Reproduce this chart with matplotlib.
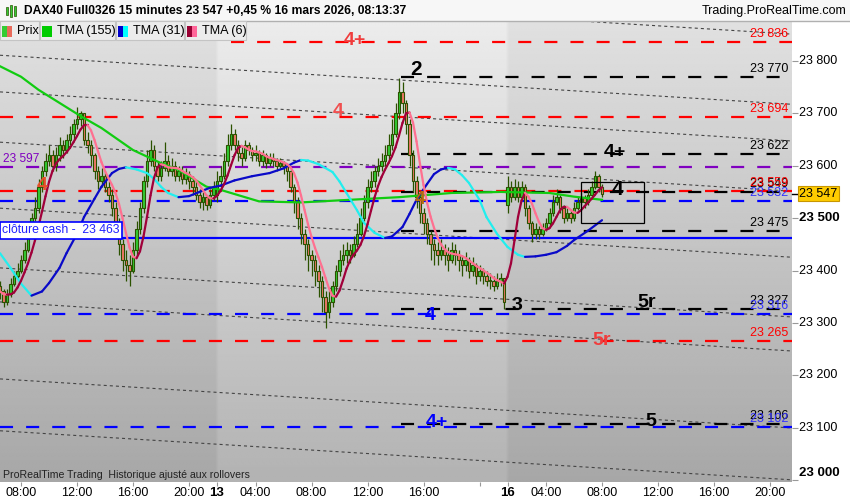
import numpy as np
import pandas as pd
import matplotlib
matplotlib.use("Agg")
import matplotlib.pyplot as plt
from matplotlib.collections import LineCollection
from matplotlib.patches import Rectangle

plt.rcParams['font.family'] = ['Liberation Sans', 'DejaVu Sans']
plt.rcParams['lines.scale_dashes'] = False

# Step 1: candle data (15 min bars, 12 / 13 / 16 March)
c12 = [23360, 23340, 23355, 23375, 23390, 23400, 23420, 23440, 23470, 23500,
       23520, 23560, 23590, 23610, 23620, 23600, 23620, 23640, 23630, 23650,
       23660, 23680, 23690, 23700, 23650, 23640, 23620, 23590, 23570, 23580,
       23560, 23545, 23520, 23490, 23450, 23420, 23410, 23400, 23440, 23480,
       23520, 23570, 23610, 23630, 23600, 23580, 23595, 23610, 23590, 23600,
       23580, 23590, 23575, 23585, 23570, 23560, 23545, 23530, 23540, 23525,
       23545, 23560]
h12 = [23380, 23365, 23365, 23385, 23400, 23415, 23430, 23455, 23480, 23510,
       23540, 23575, 23600, 23625, 23640, 23630, 23635, 23655, 23650, 23660,
       23675, 23690, 23712, 23705, 23700, 23665, 23650, 23625, 23600, 23595,
       23590, 23570, 23555, 23530, 23500, 23460, 23440, 23430, 23455, 23495,
       23530, 23580, 23630, 23650, 23640, 23610, 23610, 23645, 23620, 23615,
       23610, 23600, 23600, 23595, 23590, 23580, 23570, 23555, 23550, 23545,
       23555, 23570]
l12 = [23345, 23330, 23335, 23350, 23370, 23385, 23395, 23415, 23435, 23465,
       23495, 23510, 23550, 23580, 23600, 23590, 23590, 23610, 23615, 23625,
       23640, 23650, 23670, 23675, 23640, 23625, 23600, 23575, 23555, 23560,
       23550, 23530, 23505, 23475, 23430, 23400, 23380, 23370, 23395, 23430,
       23470, 23510, 23560, 23600, 23590, 23570, 23570, 23590, 23580, 23580,
       23570, 23570, 23565, 23565, 23555, 23545, 23535, 23520, 23515, 23515,
       23520, 23535]

c13 = [23570, 23580, 23610, 23640, 23660, 23640, 23625, 23615, 23640, 23630,
       23620, 23625, 23610, 23620, 23605, 23615, 23610, 23600, 23605, 23600,
       23590, 23560, 23530, 23500, 23470, 23450, 23430, 23420, 23400, 23380,
       23350, 23320, 23340, 23370, 23400, 23420, 23430, 23440, 23430, 23450,
       23470, 23500, 23530, 23560, 23570, 23590, 23600, 23610, 23620, 23640,
       23660, 23700, 23740, 23720, 23680, 23620, 23570, 23540, 23510, 23490,
       23470, 23450, 23440, 23430, 23440, 23430, 23420, 23440, 23430, 23420,
       23410, 23420, 23400, 23410, 23390, 23400, 23390, 23380, 23380, 23370,
       23380, 23385, 23340]
h13 = [23590, 23600, 23625, 23660, 23680, 23670, 23650, 23635, 23650, 23645,
       23635, 23640, 23630, 23630, 23625, 23625, 23625, 23615, 23615, 23610,
       23605, 23595, 23565, 23540, 23510, 23480, 23460, 23440, 23430, 23410,
       23390, 23360, 23360, 23380, 23410, 23440, 23450, 23455, 23450, 23465,
       23490, 23520, 23545, 23575, 23590, 23600, 23615, 23625, 23640, 23660,
       23690, 23720, 23768, 23760, 23725, 23690, 23630, 23580, 23550, 23520,
       23500, 23475, 23460, 23455, 23460, 23450, 23445, 23455, 23450, 23440,
       23430, 23435, 23425, 23425, 23415, 23410, 23405, 23400, 23395, 23390,
       23395, 23395, 23385]
l13 = [23530, 23560, 23575, 23600, 23630, 23630, 23610, 23600, 23610, 23620,
       23610, 23610, 23600, 23600, 23595, 23600, 23600, 23590, 23595, 23585,
       23570, 23550, 23510, 23480, 23450, 23420, 23400, 23390, 23370, 23350,
       23320, 23290, 23310, 23330, 23360, 23390, 23410, 23415, 23415, 23425,
       23445, 23465, 23495, 23520, 23550, 23560, 23580, 23590, 23600, 23610,
       23630, 23655, 23690, 23700, 23660, 23600, 23550, 23520, 23490, 23470,
       23450, 23420, 23410, 23410, 23420, 23410, 23400, 23415, 23410, 23400,
       23390, 23400, 23385, 23390, 23375, 23380, 23375, 23370, 23365, 23360,
       23365, 23370, 23327]

c16 = [23560, 23540, 23560, 23540, 23560, 23520, 23490, 23470, 23480, 23470,
       23480, 23490, 23510, 23530, 23540, 23520, 23500, 23510, 23500, 23520,
       23530, 23540, 23530, 23545, 23560, 23580, 23560, 23547]
h16 = [23580, 23570, 23575, 23570, 23570, 23565, 23525, 23495, 23490, 23485,
       23490, 23500, 23520, 23545, 23555, 23545, 23525, 23520, 23515, 23530,
       23540, 23550, 23545, 23555, 23570, 23590, 23585, 23565]
l16 = [23510, 23530, 23535, 23530, 23535, 23505, 23480, 23455, 23460, 23460,
       23465, 23475, 23485, 23505, 23525, 23510, 23490, 23495, 23490, 23495,
       23515, 23525, 23520, 23525, 23540, 23555, 23550, 23540]

# open of the first bar of each session (gaps)
session_opens = {0: 23370, 62: 23545, 145: 23525}

# TMA(31) and TMA(155) (bar, value)
tma31_bars = [0, 3, 6, 9, 12, 14, 17, 19, 22, 24, 27, 29, 32, 34, 36,
              39, 42, 44, 46, 48, 51, 54, 57, 60, 63, 67, 72, 77, 81, 84, 86,
              88, 91, 95, 97, 99, 102, 104, 107, 110, 112, 115, 117, 119, 122,
              124, 126, 128, 130, 132, 134, 137, 139, 142, 145, 148, 150, 153,
              156, 159, 162, 164, 168, 172]
tma31_vals = [23433, 23405, 23375, 23352, 23360, 23376, 23405, 23433, 23470,
              23502, 23537, 23560, 23586, 23594, 23597, 23593, 23586, 23575,
              23560, 23548, 23540, 23542, 23550, 23558, 23562, 23572, 23580,
              23586, 23595, 23606, 23611, 23610, 23603, 23588, 23570, 23548,
              23515, 23491, 23472, 23462, 23465, 23483, 23508, 23535, 23565,
              23584, 23593, 23596, 23593, 23582, 23567, 23535, 23502, 23470,
              23445, 23430, 23426, 23427, 23430, 23435, 23447, 23458, 23476,
              23496]
tma155_bars = [0, 6, 11, 17, 23, 29, 38, 46, 51, 59, 63, 74, 86, 100, 114, 129,
               143, 157, 164, 172]
tma155_vals = [23790, 23770, 23745, 23720, 23695, 23672, 23630, 23605, 23592,
               23560, 23554, 23532, 23530, 23535, 23540, 23548, 23550, 23548,
               23541, 23535]

# horizontal levels
level_prices = [23836, 23770, 23694, 23622, 23597, 23552, 23549, 23532, 23475,
                23327, 23316, 23265, 23106, 23102]
level_colors = ['#ff0000', 'black', '#ff0000', 'black', '#8000c0', '#ff0000',
                'black', '#0000ff', 'black', 'black', '#0000ff', '#ff0000',
                'black', '#0000ff']
level_start = [66, 114.5, 0, 114.5, 0, 0, 114.5, 0, 114.5, 114.5, 0, 0, 114.5, 0]
right_labels = [(23836, '23 836', '#ff0000'), (23770, '23 770', 'black'),
                (23694, '23 694', '#ff0000'), (23622, '23 622', 'black'),
                (23549, '23 549', 'black'), (23552, '23 559', '#ff0000'),
                (23532, '23 532', '#3333ff'), (23475, '23 475', 'black'),
                (23327, '23 327', 'black'), (23316, '23 316', '#3333ff'),
                (23265, '23 265', '#ff0000'), (23106, '23 106', 'black'),
                (23102, '23 102', '#3333ff')]

# sloping channel lines: value at bar 0, common slope per bar
channel_start = [23945, 23811, 23741, 23645, 23519, 23405, 23340, 23193, 23094]
channel_slope = -0.414

# wave labels (text, bar, price, colour, size)
wave_labels = [('4+', 101.4, 23840, '#f03c3c', 14), ('2', 118.9, 23783, 'black', 15),
               ('4', 96.6, 23703, '#f05050', 14), ('4+', 175.7, 23626, 'black', 14),
               ('4', 176.3, 23554, 'black', 15), ('4', 12, 23563, '#e8502a', 14),
               ('4', 120, 23535, '#b86a10', 14), ('4', 122.9, 23315, '#0000ff', 14),
               ('3', 147.7, 23334, 'black', 14), ('5r', 184.8, 23338, 'black', 14),
               ('5r', 172, 23267, '#f03c3c', 14), ('4+', 124.8, 23109, '#0000ff', 14),
               ('5', 186, 23111, 'black', 14)]

# x axis ticks (bar index, label)
tick_bars = [6, 22, 38, 54, 62, 73, 89, 105, 121, 137, 145, 156, 172, 188, 204, 220]
tick_labels = ['08:00', '12:00', '16:00', '20:00', '13', '04:00', '08:00', '12:00',
               '16:00', '', '16', '04:00', '08:00', '12:00', '16:00', '20:00']
y_ticks = [23000, 23100, 23200, 23300, 23400, 23500, 23600, 23700, 23800]

# Step 2: build OHLC arrays
closes = np.array(c12 + c13 + c16, dtype=float)
highs = np.array(h12 + h13 + h16, dtype=float)
lows = np.array(l12 + l13 + l16, dtype=float)
opens = np.r_[closes[0], closes[:-1]]
for b, o in session_opens.items():
    opens[b] = o
highs = np.maximum(highs, np.maximum(opens, closes))
lows = np.minimum(lows, np.minimum(opens, closes))
bars = np.arange(len(closes))

# TMA(6) from the closes
tma6 = pd.Series(closes).rolling(3, min_periods=1).mean().rolling(4, min_periods=1).mean().values

# Step 3: figure
W, H = 850, 500
fig = plt.figure(figsize=(W / 100, H / 100), dpi=100)
fig.patch.set_facecolor('white')
ax = fig.add_axes([0, 18 / H, 792 / W, 461 / H])
x_max = 792 / 3.5
y_top = 23800 + 40 / 0.52375
y_bot = 23800 - 421 / 0.52375
ax.set_xlim(0, x_max)
ax.set_ylim(y_bot, y_top)

# background: vertical gradient, 13 March a bit lighter
rows = np.linspace(0.925, 0.70, 200)[:, None]
cols = np.zeros((1, 227))
cols[0, 62:145] = 0.045
bg = np.clip(rows + cols - 0.045, 0, 1)
ax.imshow(bg, extent=[0, 227, y_bot, y_top], aspect='auto', cmap='gray',
          vmin=0, vmax=1, zorder=0, interpolation='bilinear')

# channel lines
xx = np.array([0, x_max])
for p0 in channel_start:
    ax.plot(xx, p0 + channel_slope * xx, color='#444444', lw=0.8,
            dashes=(2.2, 2.2), zorder=1)

# level lines
for p, col, s in zip(level_prices, level_colors, level_start):
    ax.plot([s, x_max], [p, p], color=col, lw=1.6, dashes=(9.4, 9.4), zorder=2)

ax.axhline(23463, color='#0000ff', lw=1.6, zorder=2)

# candles
edge = '#2b5200'
ax.vlines(bars, lows, highs, color=edge, lw=0.9, zorder=3)
body_col = np.where(closes >= opens, '#33cc33', '#f07868')
body_h = np.maximum(np.abs(closes - opens), 1.5)
ax.bar(bars, body_h, bottom=np.minimum(opens, closes), width=0.72,
       color=body_col, edgecolor=edge, linewidth=0.8, zorder=4)


def slope_line(xs, ys, up, down, lw):
    pts = np.column_stack([xs, ys])
    segs = np.stack([pts[:-1], pts[1:]], axis=1)
    colors = [up if b >= a else down for a, b in zip(ys[:-1], ys[1:])]
    ax.add_collection(LineCollection(segs, colors=colors, linewidths=lw,
                                     capstyle='round', joinstyle='round', zorder=6))


ax.plot(tma155_bars, tma155_vals, color='#11cc11', lw=1.6, zorder=5)
slope_line(np.array(tma31_bars), np.array(tma31_vals, dtype=float), '#0a0ac8', '#22eeee', 1.6)
slope_line(bars, tma6, '#a0003a', '#ff7090', 1.6)

# rectangle around last bars
ax.add_patch(Rectangle((581 / 3.5, 23800 - (223 - 61) / 0.52375), 63 / 3.5, 41 / 0.52375,
                       fill=False, edgecolor='black', lw=0.9, zorder=7))

# wave labels
for txt, b, p, col, size in wave_labels:
    ax.text(b, p, txt, color=col, fontsize=size, fontweight='bold',
            ha='center', va='center', zorder=8)

# price labels at the right edge
for p, txt, col in right_labels:
    ax.annotate(txt, xy=(x_max, p), xytext=(-4, 8), textcoords='offset pixels',
                ha='right', va='center', color=col, fontsize=9, zorder=8)

ax.text(0.8, 23597 + 15, '23 597', color='#8000c0', fontsize=8.6, va='center', zorder=8)
ax.text(0.6, 23463 + 14, 'clôture cash -  23 463', color='#2020ff', fontsize=8.8,
        va='center', zorder=9,
        bbox=dict(boxstyle='square,pad=0.2', fc='white', ec='#0000ff', lw=1.2))
ax.text(0.8, y_bot + 13, 'ProRealTime Trading  Historique ajusté aux rollovers',
        fontsize=7.6, color='#222222', va='center', zorder=8)

# axes: y on the right
for sp in ax.spines.values():
    sp.set_visible(False)
ax.set_yticks(y_ticks)
ax.tick_params(axis='y', left=False, right=True, labelleft=False, labelright=False,
               length=4, color='#999999', direction='out')
for v in y_ticks:
    bold = v in (23000, 23500)
    yv = v + 13 if v == 23000 else v
    ax.text(1.0 + 7 / 792, yv, f'{v // 1000} {v % 1000:03d}', transform=ax.get_yaxis_transform(),
            ha='left', va='center', fontsize=9.5 if bold else 9,
            fontweight='bold' if bold else 'normal')

ax.set_xticks(tick_bars)
ax.set_xticklabels(tick_labels, fontsize=9)
for lab in ax.get_xticklabels():
    if lab.get_text() in ('13', '16'):
        lab.set_fontweight('bold')
        lab.set_fontsize(9.5)
ax.tick_params(axis='x', length=3, color='#999999', pad=0.5)

# current price box
ax.text(1.0 + 7 / 792, 23547, '23 547', transform=ax.get_yaxis_transform(),
        ha='left', va='center', fontsize=9, zorder=10,
        bbox=dict(boxstyle='square,pad=0.12', fc='#ffcc00', ec='#c89600', lw=0.8))
ax.plot([1.0, 1.0 + 6 / 792], [23547, 23547], color='black', lw=1,
        transform=ax.get_yaxis_transform(), clip_on=False)

# Step 4: title bar and legend row
fig.patches.append(Rectangle((0, 1 - 21 / H), 1, 21 / H, transform=fig.transFigure,
                             fc='#f7f7f7', ec='none', zorder=0))
fig.lines.append(plt.Line2D([0, 1], [1 - 21 / H, 1 - 21 / H], transform=fig.transFigure,
                            color='#b0b0b0', lw=1))
for cx, hh in [(7, 8), (11, 12), (15, 10)]:
    fig.patches.append(Rectangle(((cx - 1.2) / W, 1 - (11 + hh / 2) / H), 2.4 / W, hh / H,
                                 transform=fig.transFigure, fc='#33cc33', ec='#2b5200', lw=0.5))
fig.text(24 / W, 1 - 11 / H, 'DAX40 Full0326 15 minutes 23 547 +0,45 % 16 mars 2026, 08:13:37',
         fontsize=8.7, fontweight='bold', va='center', ha='left')
fig.text(1 - 4 / W, 1 - 11 / H, 'Trading.ProRealTime.com', fontsize=9, va='center', ha='right')

cells = [(0, 39, 'Prix', ('#33cc33', '#e86a5a')), (40, 75, 'TMA (155)', ('#00cc00', '#00cc00')),
         (116, 68, 'TMA (31)', ('#0000cc', '#00ffff')), (185, 61, 'TMA (6)', ('#990033', '#ff6699'))]
for x0, w, txt, sw in cells:
    fig.patches.append(Rectangle((x0 / W, 1 - 40 / H), w / W, 19 / H, transform=fig.transFigure,
                                 fc='#ececec', ec='#c4c4c4', lw=0.8, zorder=5))
    fig.patches.append(Rectangle(((x0 + 2) / W, 1 - 37 / H), 5 / W, 11 / H,
                                 transform=fig.transFigure, fc=sw[0], ec='none', zorder=6))
    fig.patches.append(Rectangle(((x0 + 7) / W, 1 - 37 / H), 5 / W, 11 / H,
                                 transform=fig.transFigure, fc=sw[1], ec='none', zorder=6))
    fig.text((x0 + 17) / W, 1 - 31 / H, txt, fontsize=9.1, va='center', ha='left', zorder=7)

fig.savefig('out.png', dpi=100)
print('saved out.png')
